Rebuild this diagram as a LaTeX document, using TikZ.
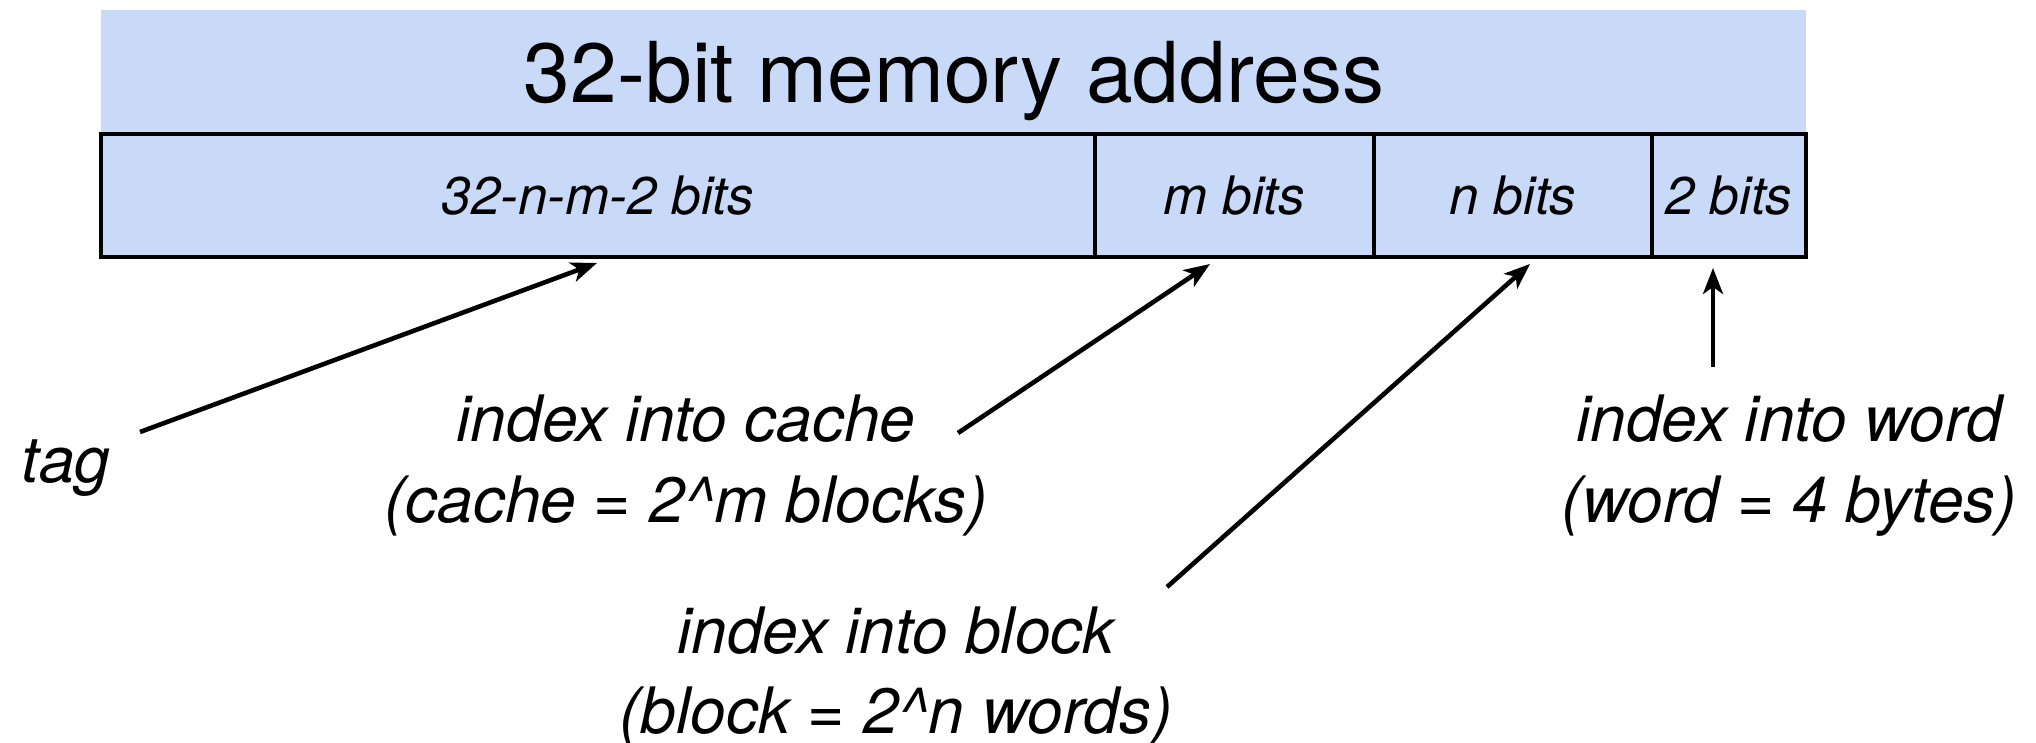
\documentclass[tikz,border=0pt]{standalone}
\usepackage{fontspec}
\setmainfont{TeX Gyre Heros}
\usetikzlibrary{arrows.meta}
\definecolor{addrblue}{RGB}{201,217,248}
\begin{document}
\begin{tikzpicture}[x=0.5pt,y=-0.5pt,
  cell/.style={draw=black, line width=2.4pt, fill=addrblue, minimum height=61.5pt,
    inner sep=0pt, font=\fontsize{26.5}{30}\selectfont\itshape},
  lbl/.style={font=\fontsize{32}{40}\selectfont\itshape, align=center, inner sep=0pt, anchor=base},
  ptr/.style={line width=2.3pt, -{Stealth[length=13pt,width=10pt,inset=3.5pt]}}]
\useasboundingbox (0,0) rectangle (2036,743);

% address header band
\fill[addrblue] (101,10) rectangle (1806,134);
\node[font=\fontsize{42}{48}\selectfont, anchor=base, inner sep=0pt] (title) at (954,103) {32-bit memory address};

% bit fields
\node[cell, minimum width=497pt] (tagf) at (598,195.5) {32-n-m-2 bits};
\node[cell, minimum width=139.5pt] (idxf) at (1234.5,195.5) {m bits};
\node[cell, minimum width=139pt] (offf) at (1513,195.5) {n bits};
\node[cell, minimum width=77pt] (bytef) at (1729,195.5) {2 bits};

% labels (base anchor sits on the last line)
\node[lbl] (tag) at (66,482) {tag};
\node[lbl] (cache) at (686,522) {index into cache\\(cache = 2\^{}m blocks)};
\node[lbl] (block) at (896,733) {index into block\\(block = 2\^{}n words)};
\node[lbl] (word) at (1789,522) {index into word\\(word = 4 bytes)};

% pointer ends
\coordinate (tagtail) at (140,432);
\coordinate (tagtip) at (597,263);
\coordinate (cachetail) at (958,433);
\coordinate (cachetip) at (1210,264);
\coordinate (blocktail) at (1167,587);
\coordinate (blocktip) at (1530,264);
\coordinate (wordtail) at (1713,367);
\coordinate (wordtip) at (1713,268);

\draw[ptr] (tagtail) -- (tagtip);
\draw[ptr] (cachetail) -- (cachetip);
\draw[ptr] (blocktail) -- (blocktip);
\draw[ptr, line width=2pt] (wordtail) -- (wordtip);
\end{tikzpicture}
\end{document}
